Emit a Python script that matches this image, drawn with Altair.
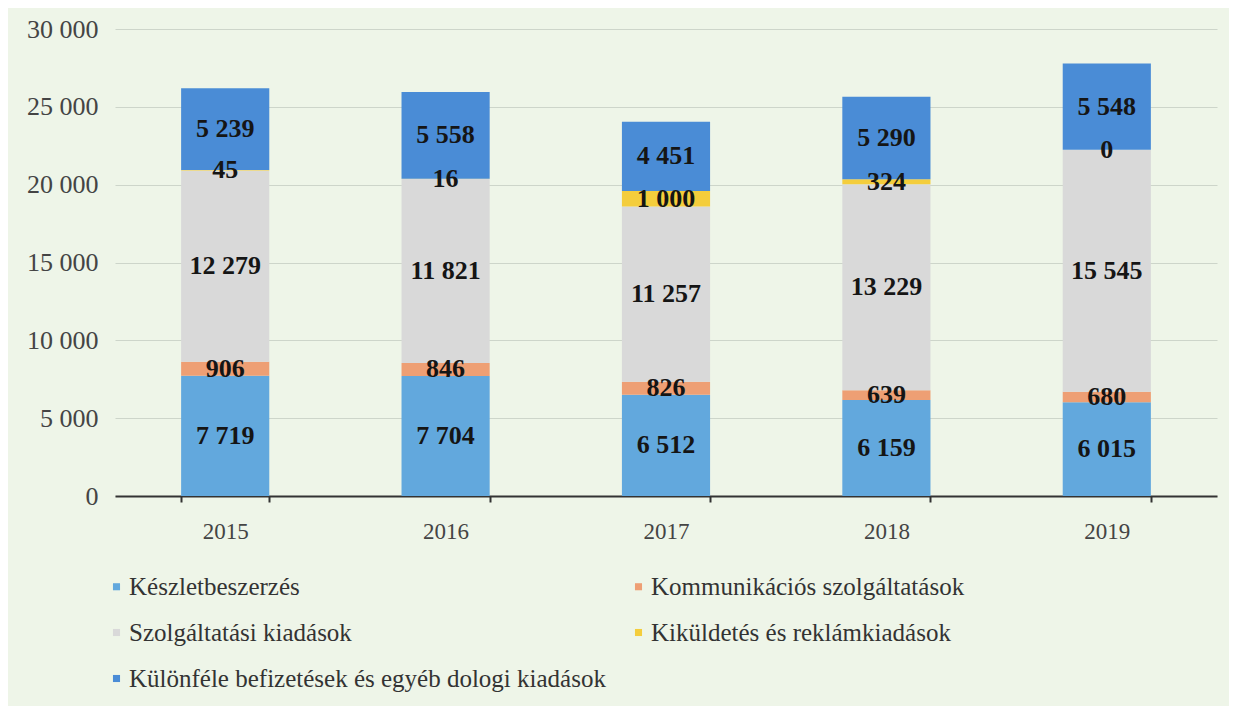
import altair as alt
import pandas as pd

years = ["2015", "2016", "2017", "2018", "2019"]
categories = [
    "Készletbeszerzés",
    "Kommunikációs szolgáltatások",
    "Szolgáltatási kiadások",
    "Kiküldetés és reklámkiadások",
    "Különféle befizetések és egyéb dologi kiadások",
]
keszletbeszerzes = [7719, 7704, 6512, 6159, 6015]
kommunikacio = [906, 846, 826, 639, 680]
szolgaltatas = [12279, 11821, 11257, 13229, 15545]
kikuldetes = [45, 16, 1000, 324, 0]
kulonfele = [5239, 5558, 4451, 5290, 5548]
colors = ["#62a8dd", "#ee9f74", "#d9d9d9", "#f4cd3c", "#4a8cd6"]
y_ticks = [0, 5000, 10000, 15000, 20000, 25000, 30000]
legend_order = [categories[0], categories[2], categories[4], categories[1], categories[3]]

series = [keszletbeszerzes, kommunikacio, szolgaltatas, kikuldetes, kulonfele]
rows = []
for ci, (cat, vals) in enumerate(zip(categories, series)):
    for yr, v in zip(years, vals):
        rows.append({
            "year": yr,
            "cat": cat,
            "order": ci,
            "value": v,
            "label": f"{v:,}".replace(",", " "),
        })
df = pd.DataFrame(rows)

FONT = "Liberation Serif"

base = alt.Chart(df).transform_stack(
    stack="value",
    groupby=["year"],
    as_=["y0", "y1"],
    sort=[alt.SortField("order", order="ascending")],
).transform_calculate(mid="(datum.y0 + datum.y1) / 2")

x_enc = alt.X(
    "year:N",
    sort=years,
    scale=alt.Scale(paddingInner=0.6, paddingOuter=0.3),
    axis=alt.Axis(
        title=None, labelAngle=0, tickBand="extent", grid=False,
        domainColor="#333333", domainWidth=2, tickColor="#333333",
        tickWidth=2, tickSize=6, labelPadding=18, labelFont=FONT,
        labelFontSize=23, labelColor="#444444",
    ),
)

bars = base.mark_bar().encode(
    x=x_enc,
    y=alt.Y(
        "y0:Q",
        scale=alt.Scale(domain=[0, 30000], nice=False),
        axis=alt.Axis(
            title=None, values=y_ticks, domain=False, ticks=False,
            labelExpr="replace(format(datum.value, ','), ',', ' ')",
            labelPadding=17, labelFont=FONT, labelFontSize=26,
            labelColor="#444444", gridColor="#cdd5ca", gridWidth=1,
        ),
    ),
    y2="y1:Q",
    color=alt.Color(
        "cat:N",
        scale=alt.Scale(domain=categories, range=colors),
        legend=alt.Legend(
            orient="none", legendX=-11, legendY=545, columns=2, title=None,
            values=legend_order,
            symbolType="square", symbolSize=50, symbolStrokeWidth=0,
            labelFont=FONT, labelFontSize=25, labelColor="#333333",
            rowPadding=20, columnPadding=20, labelOffset=0, labelLimit=0,
        ),
    ),
)

text = base.mark_text(
    font=FONT, fontWeight="bold", fontSize=26, color="#151515"
).encode(
    x=alt.X("year:N", sort=years),
    y=alt.Y("mid:Q"),
    text="label:N",
)

chart = alt.layer(bars, text).properties(
    width=1102,
    height=467,
    autosize=alt.AutoSizeParams(type="none"),
    padding={"left": 107, "top": 21, "right": 12, "bottom": 210},
    background="#eef5e8",
).configure(font=FONT).configure_axis(
    labelFont=FONT
).configure_legend(labelFont=FONT).configure_view(stroke=None)

chart.save("out.html", embed_options={"renderer": "svg", "actions": False})
